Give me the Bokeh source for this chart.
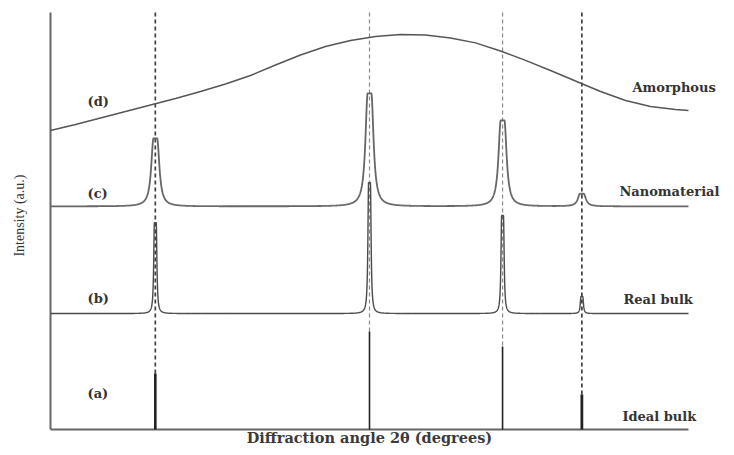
import numpy as np
from bokeh.plotting import figure
from bokeh.models import Range1d, Label
from bokeh.embed import file_html
from bokeh.resources import INLINE

# ---------------- data ----------------
peak_pos = [21.5, 45.0, 59.6, 68.3]          # 2-theta positions of the reflections
ideal_height = [13.4, 23.5, 19.9, 8.4]       # (a) ideal bulk stick heights
bulk_base = 27.8                             # (b) real bulk baseline
bulk_height = [21.8, 31.4, 23.5, 4.1]        # (b) peak heights above baseline
bulk_flat, bulk_hwhm = 0.10, 0.09            # flat-top half width, lorentzian width
nano_base = 53.5                             # (c) nanomaterial baseline
nano_height = [16.3, 27.1, 20.6, 3.0]        # (c) peak heights above baseline
nano_flat, nano_hwhm = 0.20, 0.30
amorph_x = [10, 12.74, 15.49, 18.23, 20.97, 23.72, 26.46, 29.20, 31.94, 34.69,
            37.43, 40.17, 42.92, 45.66, 48.40, 51.15, 53.89, 56.63, 59.37, 62.12,
            64.86, 67.60, 70.35, 73.09, 75.83, 78.57, 80.0]
amorph_y = [71.70, 73.14, 74.70, 76.26, 77.82, 79.38, 81.06, 82.85, 84.89, 87.41,
            89.81, 91.85, 93.29, 94.24, 94.72, 94.60, 93.88, 92.73, 90.77, 88.54,
            86.09, 83.57, 81.06, 78.90, 77.46, 76.74, 76.50]
letter_labels = ["(d)", "(c)", "(b)", "(a)"]
letter_y = [78.7, 56.6, 31.4, 8.6]
name_labels = ["Amorphous", "Nanomaterial", "Real bulk", "Ideal bulk"]
name_x = [73.85, 72.42, 72.86, 72.75]
name_y = [82.0, 57.1, 31.2, 3.1]
x_title = "Diffraction angle 2\u03b8 (degrees)"
y_title = "Intensity (a.u.)"

X0, X1 = 10, 80
Y0, Y1 = 0, 100

# ---------------- layout ----------------
W, H = 734, 455
px_per_x = 638 / (X1 - X0)
px_per_y = 417 / (Y1 - Y0)
x_range = Range1d(X0 - 50 / px_per_x, X1 + 46 / px_per_x)
y_range = Range1d(Y0 - 26 / px_per_y, Y1 + 12 / px_per_y)

p = figure(width=W, height=H, x_range=x_range, y_range=y_range,
           output_backend="svg", toolbar_location=None,
           x_axis_location=None, y_axis_location=None, min_border=0)
p.title.visible = False
p.outline_line_color = None
p.xgrid.visible = False
p.ygrid.visible = False
p.background_fill_color = "white"
p.border_fill_color = "white"

def profile(x, base, heights, flat, hwhm):
    y = np.full_like(x, base, dtype=float)
    for c, h in zip(peak_pos, heights):
        d = np.maximum(np.abs(x - c) - flat, 0.0)
        y += h / (1.0 + (d / hwhm) ** 2)
    return y

xs = np.arange(X0, X1 + 1e-9, 0.004)

# dashed guide lines
dash_colors = ["#404040", "#8a8a8a", "#8a8a8a", "#404040"]
dash_widths = [1.7, 1.2, 1.2, 1.7]
for xp, h, c, w in zip(peak_pos, ideal_height, dash_colors, dash_widths):
    p.segment(x0=[xp], y0=[Y1], x1=[xp], y1=[h], line_color=c,
              line_width=w, line_dash="4 3")

# axes
p.line([X0, X0], [Y0, Y1], line_color="#666666", line_width=2)
p.line([X0, X1], [Y0, Y0], line_color="#666666", line_width=2)

# (d) amorphous
p.line(amorph_x, amorph_y, line_color="#555555", line_width=1.4)
# (c) nanomaterial
p.line(xs, profile(xs, nano_base, nano_height, nano_flat, nano_hwhm),
       line_color="#666666", line_width=1.8)
# (b) real bulk
p.line(xs, profile(xs, bulk_base, bulk_height, bulk_flat, bulk_hwhm),
       line_color="#4a4a4a", line_width=1.4)
# (a) ideal bulk sticks
stick_widths = [2.6, 1.6, 1.6, 2.8]
for xp, h, w in zip(peak_pos, ideal_height, stick_widths):
    p.segment(x0=[xp], y0=[Y0], x1=[xp], y1=[h], line_color="#222222", line_width=w)

font = "DejaVu Serif"
for t, y in zip(letter_labels, letter_y):
    p.add_layout(Label(x=14.06, y=y, text=t, text_font=font, text_font_size="13px",
                       text_font_style="bold", text_color="#333333",
                       text_baseline="middle", text_align="left"))
for t, x, y in zip(name_labels, name_x, name_y):
    p.add_layout(Label(x=x, y=y, text=t, text_font=font, text_font_size="13px",
                       text_font_style="bold", text_color="#333333",
                       text_baseline="middle", text_align="left"))

p.add_layout(Label(x=(X0 + X1) / 2, y=-1.9, text=x_title, text_font=font,
                   text_font_size="14.5px", text_font_style="bold", text_color="#3a3a3a",
                   text_baseline="middle", text_align="center"))
p.add_layout(Label(x=6.6, y=51.3, text=y_title, text_font="Liberation Serif",
                   text_font_size="14px", text_color="#333333", angle=np.pi / 2,
                   text_baseline="middle", text_align="center"))

open("out.html", "w").write(file_html(p, INLINE))
